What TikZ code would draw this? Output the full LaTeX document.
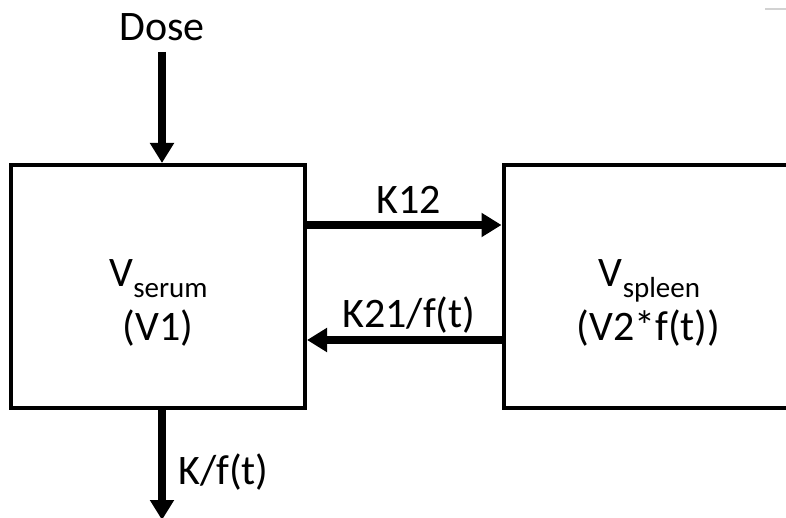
\documentclass[tikz,border=0pt]{standalone}
\usepackage{fontspec}
\setmainfont{Carlito}
\usetikzlibrary{arrows.meta}
\newcommand\lowsub[1]{\raisebox{-11pt}{\fontsize{29}{35}\selectfont #1}}
\begin{document}
\begin{tikzpicture}[x=1pt,y=1pt,
  box/.style={draw,line width=4pt,rectangle,inner sep=0pt,minimum height=243pt},
  lbl/.style={font=\fontsize{42}{50}\selectfont,inner sep=0pt,anchor=base},
  flow/.style={line width=7.5pt,-{Triangle[width=23pt,length=20pt]}}]
\clip (0,0) rectangle (786,517);
\node[box,minimum width=294pt] (serum) at (158,230.5) {};
\node[box,minimum width=327pt] (spleen) at (667,230.5) {};
\node[lbl] (dose) at (162,476) {Dose};
\node[lbl] (vserum) at (158.5,230) {V\lowsub{serum}};
\node[lbl] (v1) at (158,177) {(V1)};
\node[lbl] (vspleen) at (649.5,230) {V\lowsub{spleen}};
\node[lbl] (v2) at (648.5,177) {(V2*f(t))};
\node[lbl] (k12) at (409,303) {K12};
\node[lbl] (k21) at (409,190) {K21/f(t)};
\node[lbl,anchor=base west] (kout) at (178,33) {K/f(t)};
\coordinate (k12y) at (0,292);
\coordinate (k21y) at (0,177);
\coordinate (sink) at (162,-3);
\draw[flow] ([yshift=-11pt]dose.base) -- ([xshift=4pt]serum.north);
\draw[flow] ([xshift=4pt]serum.south) -- (sink);
\draw[flow] (serum.east |- k12y) -- (spleen.west |- k12y);
\draw[flow] (spleen.west |- k21y) -- (serum.east |- k21y);
\draw[gray!35,line width=1.5pt] (765,508) -- (786,508);
\end{tikzpicture}
\end{document}
